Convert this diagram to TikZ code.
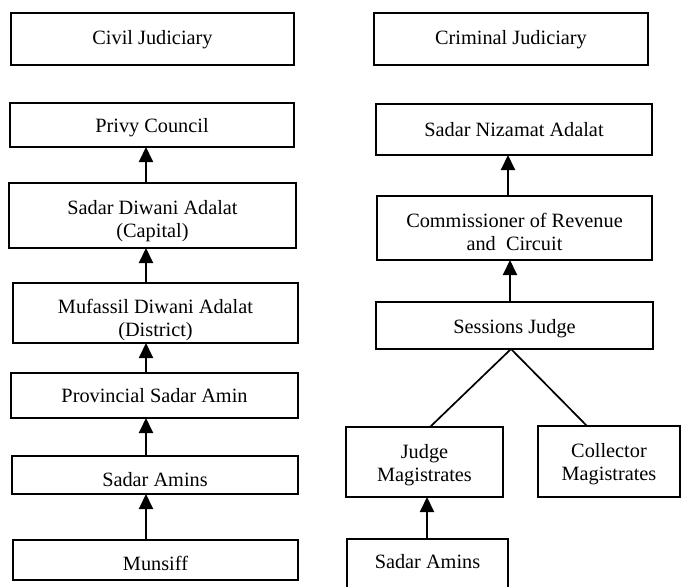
\documentclass[tikz,border=0pt]{standalone}
\usepackage{fontspec}
\setmainfont{Liberation Serif}
\usetikzlibrary{arrows.meta}
\begin{document}
\begin{tikzpicture}[x=1pt,y=-1pt,
  court/.style={draw=black, line width=1.7pt, rectangle, inner sep=0pt, outer sep=0pt,
    align=center, font=\fontsize{20.3}{23}\selectfont},
  uparrow/.style={-{Triangle[width=14pt,length=15pt]}, line width=2pt},
  branch/.style={line width=1.7pt}]
\clip (0,0) rectangle (681,587);

% ---- Civil side ----
\node[court, minimum width=283pt, minimum height=52pt, text height=20pt, text depth=10pt] (civil) at (152.5,39) {Civil Judiciary};
\node[court, minimum width=284pt, minimum height=44pt, text height=22pt, text depth=8pt] (privy) at (152,125) {Privy Council};
\node[court, minimum width=287pt, minimum height=65pt, text height=44pt, text depth=0pt] (sdiwani) at (152.5,215.5) {Sadar Diwani Adalat\\(Capital)};
\node[court, minimum width=285pt, minimum height=60pt, text height=46pt, text depth=0pt] (mufassil) at (155.5,313) {Mufassil Diwani Adalat\\(District)};
\node[court, minimum width=287pt, minimum height=45pt, text height=22pt, text depth=8pt] (provincial) at (154.5,395.5) {Provincial Sadar Amin};
\node[court, minimum width=286pt, minimum height=38pt, text height=26pt, text depth=4pt] (lsadar) at (155,475) {Sadar Amins};
\node[court, minimum width=285pt, minimum height=40pt, text height=25pt, text depth=5pt] (munsiff) at (155.5,560) {Munsiff};

% ---- Criminal side ----
\node[court, minimum width=274pt, minimum height=52pt, text height=20pt, text depth=10pt] (criminal) at (511,39) {Criminal Judiciary};
\node[court, minimum width=276pt, minimum height=51pt, text height=22pt, text depth=8pt] (nizamat) at (514,129.5) {Sadar Nizamat Adalat};
\node[court, minimum width=275pt, minimum height=64pt, text height=44pt, text depth=0pt] (commissioner) at (514.5,228) {Commissioner of Revenue\\and\ \ Circuit};
\node[court, minimum width=277pt, minimum height=47pt, text height=23pt, text depth=7pt] (sessions) at (514.5,325.5) {Sessions Judge};
\node[court, minimum width=157pt, minimum height=70pt, text height=38pt, text depth=0pt] (judgemag) at (424.5,462) {Judge\\Magistrates};
\node[court, minimum width=142pt, minimum height=71pt, text height=37pt, text depth=0pt] (collector) at (609,461.5) {Collector\\Magistrates};
\node[court, minimum width=161pt, minimum height=62pt, text height=13pt, text depth=17pt] (rsadar) at (427.5,570) {Sadar Amins};

% columns of the connectors
\coordinate (lcol) at (146,0);
\coordinate (rcolA) at (508,0);
\coordinate (rcolB) at (510,0);
\coordinate (jcol) at (427,0);
\coordinate (fork) at (511,0);
\coordinate (jend) at (430,0);
\coordinate (cend) at (587,0);

% appeals, civil side
\draw[uparrow] (sdiwani.north -| lcol) -- (privy.south -| lcol);
\draw[uparrow] (mufassil.north -| lcol) -- (sdiwani.south -| lcol);
\draw[uparrow] (provincial.north -| lcol) -- (mufassil.south -| lcol);
\draw[uparrow] (lsadar.north -| lcol) -- (provincial.south -| lcol);
\draw[uparrow] (munsiff.north -| lcol) -- (lsadar.south -| lcol);

% appeals, criminal side
\draw[uparrow] (commissioner.north -| rcolA) -- (nizamat.south -| rcolA);
\draw[uparrow] (sessions.north -| rcolB) -- (commissioner.south -| rcolB);
\draw[uparrow] (rsadar.north -| jcol) -- (judgemag.south -| jcol);
\draw[branch] (judgemag.north -| jend) -- (sessions.south -| fork) -- (collector.north -| cend);
\end{tikzpicture}
\end{document}
